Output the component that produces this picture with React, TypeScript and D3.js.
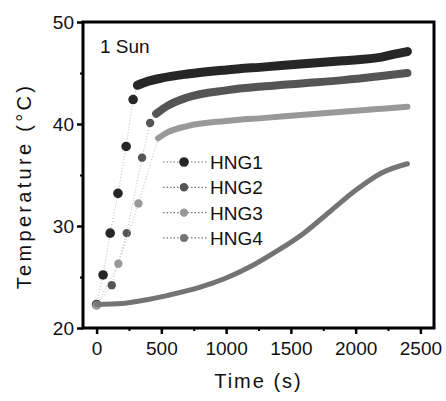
import { useEffect, useRef } from 'react';
import * as d3 from 'd3';

// Heating curves under 1 sun
const seriesNames = ['HNG1', 'HNG2', 'HNG3', 'HNG4'];

const hng1Time = [0, 50, 105, 165, 228, 282, 315, 400, 500, 700, 1000, 1300, 1600, 1900, 2200, 2300, 2400];
const hng1Temp = [22.3, 25.2, 29.3, 33.2, 37.8, 42.4, 43.8, 44.2, 44.5, 44.9, 45.3, 45.6, 45.9, 46.2, 46.55, 46.85, 47.1];

const hng2Time = [0, 117, 233, 351, 413, 460, 550, 700, 1000, 1300, 1600, 1900, 2200, 2400];
const hng2Temp = [22.3, 24.2, 29.3, 36.7, 40.1, 41.0, 41.8, 42.6, 43.3, 43.7, 44.0, 44.3, 44.7, 45.0];

const hng3Time = [0, 168, 323, 475, 550, 700, 1000, 1300, 1600, 1900, 2200, 2400];
const hng3Temp = [22.2, 26.3, 32.2, 38.6, 39.2, 39.8, 40.3, 40.6, 40.9, 41.2, 41.5, 41.7];

const hng4Time = [0, 200, 400, 550, 800, 1000, 1200, 1400, 1600, 1800, 2000, 2200, 2400];
const hng4Temp = [22.3, 22.4, 22.8, 23.2, 24.0, 24.9, 26.1, 27.6, 29.3, 31.4, 33.5, 35.2, 36.1];

// index where the sampled points become a continuous band
const denseFrom = [6, 5, 3, 0];

const timeTicks = [0, 500, 1000, 1500, 2000, 2500];
const tempTicks = [20, 30, 40, 50];

export default function App() {
    const svgRef = useRef<SVGSVGElement>(null);

    useEffect(() => {
        if (!svgRef.current) return;
        const W = 446, H = 401;
        const margin = { top: 22, right: 12, bottom: 73, left: 83 };
        const font = '"Liberation Sans", Arial, sans-serif';

        const svg = d3.select(svgRef.current);
        svg.selectAll('*').remove();

        const x = d3.scaleLinear().domain([-105, 2605]).range([margin.left, W - margin.right]);
        const y = d3.scaleLinear().domain([20, 50]).range([H - margin.bottom, margin.top]);

        const times = [hng1Time, hng2Time, hng3Time, hng4Time];
        const temps = [hng1Temp, hng2Temp, hng3Temp, hng4Temp];
        const colors = ['#262626', '#555', '#999', '#747474'];
        const bandW = [9, 8, 6, 5];
        const markR = [4.8, 4.2, 4.2, 4];

        const series = seriesNames.map((name, i) => ({
            name,
            pts: times[i].map((t, j) => ({ t, v: temps[i][j] })),
            color: colors[i],
        }));

        const line = d3.line<{ t: number; v: number }>()
            .x(d => x(d.t)).y(d => y(d.v))
            .curve(d3.curveMonotoneX);

        const g = svg.append('g');

        series.forEach((s, i) => {
            // thin connecting line
            g.append('path')
                .attr('d', d3.line<{ t: number; v: number }>().x(d => x(d.t)).y(d => y(d.v))(s.pts.slice(0, denseFrom[i] + 1)) || '')
                .attr('fill', 'none').attr('stroke', '#bbb').attr('stroke-width', 1)
                .attr('stroke-dasharray', '1,2');
            // dense band
            g.append('path')
                .attr('d', line(s.pts.slice(denseFrom[i])) || '')
                .attr('fill', 'none').attr('stroke', s.color)
                .attr('stroke-width', bandW[i]).attr('stroke-linecap', 'round')
                .attr('stroke-linejoin', 'round');
            // early sampled points
            g.selectAll(`.m${i}`)
                .data(s.pts.slice(0, denseFrom[i]))
                .join('circle')
                .attr('class', `m${i}`)
                .attr('cx', d => x(d.t)).attr('cy', d => y(d.v))
                .attr('r', markR[i]).attr('fill', s.color);
        });

        // Legend
        const leg = svg.append('g');
        series.forEach((s, i) => {
            const ly = 162 + i * 25.3;
            leg.append('line')
                .attr('x1', 163).attr('x2', 207).attr('y1', ly).attr('y2', ly)
                .attr('stroke', '#777').attr('stroke-width', 1.2).attr('stroke-dasharray', '1.5,2');
            leg.append('circle').attr('cx', 184).attr('cy', ly).attr('r', markR[i]).attr('fill', s.color);
            leg.append('text')
                .attr('x', 210).attr('y', ly + 7)
                .attr('font-family', font).attr('font-size', 19).attr('fill', '#111')
                .text(s.name);
        });

        // "1 Sun"
        svg.append('text')
            .attr('x', 100).attr('y', 53)
            .attr('font-family', font).attr('font-size', 19).attr('fill', '#111')
            .text('1 Sun');

        // Axes
        const xAxis = d3.axisBottom(x).tickValues(timeTicks).tickSize(6).tickFormat(d3.format('d'));
        const xMinor = d3.axisBottom(x).tickValues(d3.range(250, 2600, 500)).tickSize(3).tickFormat(() => '');
        const yAxis = d3.axisLeft(y).tickValues(tempTicks).tickSize(6).tickFormat(d3.format('d'));
        const yMinor = d3.axisLeft(y).tickValues([25, 35, 45]).tickSize(3).tickFormat(() => '');

        const gx = svg.append('g').attr('transform', `translate(0,${H - margin.bottom})`).call(xAxis);
        svg.append('g').attr('transform', `translate(0,${H - margin.bottom})`).call(xMinor)
            .call(a => a.select('.domain').remove())
            .selectAll('line').attr('stroke-width', 2);
        gx.select('.domain').remove();
        gx.selectAll('line').attr('stroke-width', 2.5);
        gx.selectAll('text')
            .attr('font-family', font).attr('font-size', 19).attr('fill', '#111').attr('dy', '0.95em');

        const gy = svg.append('g').attr('transform', `translate(${margin.left},0)`).call(yAxis);
        svg.append('g').attr('transform', `translate(${margin.left},0)`).call(yMinor)
            .call(a => a.select('.domain').remove())
            .selectAll('line').attr('stroke-width', 2);
        gy.select('.domain').remove();
        gy.selectAll('line').attr('stroke-width', 2.5);
        gy.selectAll('text')
            .attr('font-family', font).attr('font-size', 19).attr('fill', '#111').attr('x', -9).attr('dy', '0.35em');

        // Frame
        svg.append('rect')
            .attr('x', margin.left).attr('y', margin.top)
            .attr('width', W - margin.right - margin.left).attr('height', H - margin.bottom - margin.top)
            .attr('fill', 'none').attr('stroke', '#000').attr('stroke-width', 3);

        // Axis titles
        svg.append('text')
            .attr('x', (margin.left + W - margin.right) / 2).attr('y', 388)
            .attr('text-anchor', 'middle')
            .attr('font-family', font).attr('font-size', 20).attr('letter-spacing', 2).attr('fill', '#111')
            .text('Time (s)');
        svg.append('text')
            .attr('transform', `translate(31,186) rotate(-90)`)
            .attr('text-anchor', 'middle')
            .attr('font-family', font).attr('font-size', 20).attr('letter-spacing', 3.3).attr('fill', '#111')
            .text('Temperature (°C)');
    }, []);

    return (
        <svg
            ref={svgRef}
            width={446}
            height={401}
            style={{ position: 'absolute', left: 0, top: 0, background: '#fff' }}
        />
    );
}
